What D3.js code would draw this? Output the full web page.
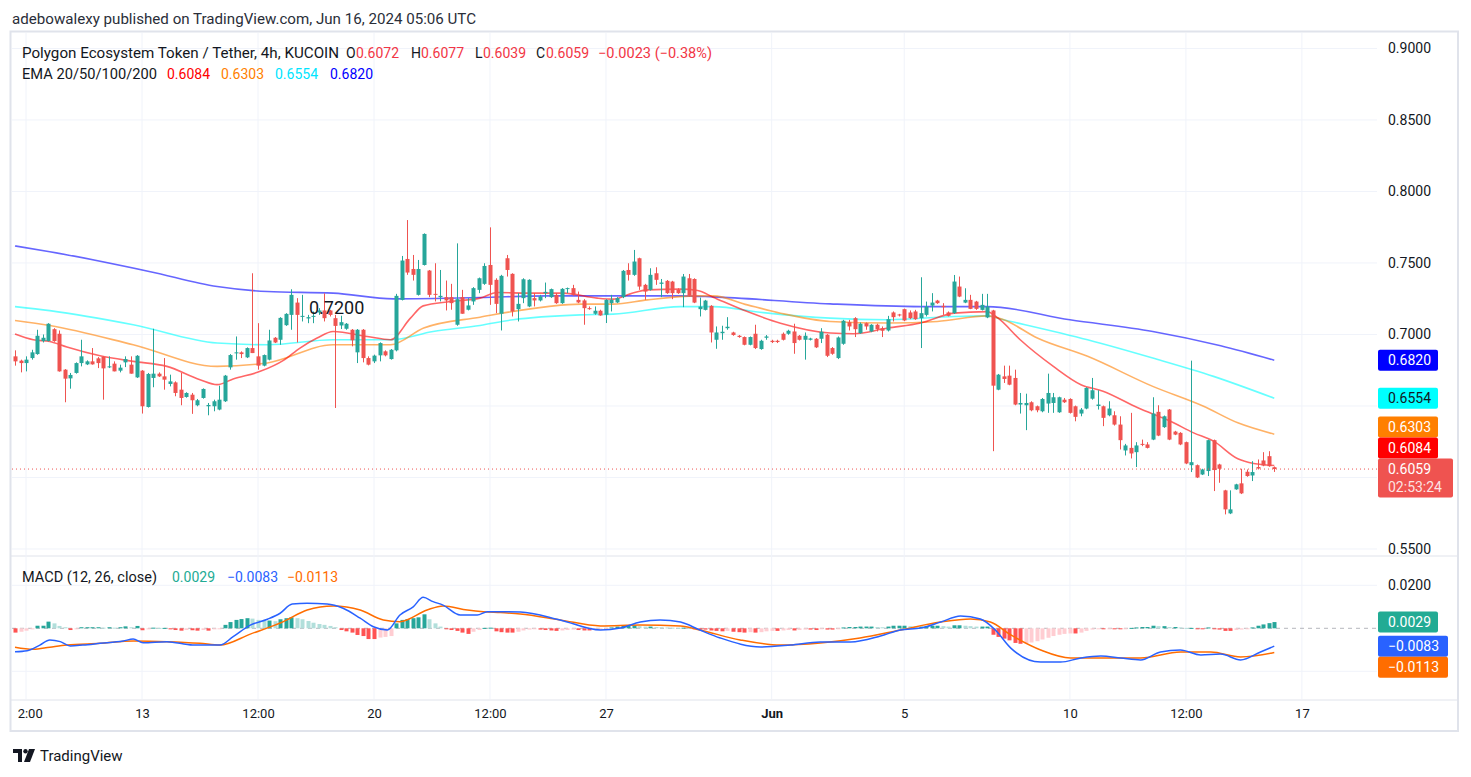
<!DOCTYPE html>
<html>
<head>
<meta charset="utf-8">
<script src="https://cdn.jsdelivr.net/npm/d3@7"></script>
<style>
  body { margin: 0; background: #ffffff; }
  svg text { font-family: Roboto, "Noto Sans", sans-serif; fill: #131722; }
</style>
</head>
<body>
<svg id="chart" width="1471" height="777"></svg>
<script>
// ---- candles (4h, first bar 2024-05-09 04:00 UTC) ----
const candleOpen = [
  .6847,.6817,.6800,.6835,.6863,.6954,.6954,.7037,.7005,.6754,
  .6693,.6731,.6800,.6791,.6812,.6833,.6844,.6770,.6796,.6747,
  .6805,.6789,.6700,.6747,.6493,.6696,.6726,.6707,.6654,.6665,
  .6614,.6563,.6579,.6505,.6556,.6498,.6498,.6475,.6533,.6770,
  .6868,.6875,.6840,.6905,.6847,.6782,.6824,.6977,.6963,.7065,
  .7137,.7223,.7123,.7112,.7126,.7154,.7168,.7168,.7114,.7063,
  .7040,.7033,.6875,.7033,.6835,.6812,.6854,.6882,.6828,.6889,
  .7242,.7528,.7458,.7277,.7486,.7447,.7284,.7261,.7261,.7261,
  .7068,.7261,.7173,.7231,.7312,.7354,.7486,.7382,.7145,.7533,
  .7424,.7177,.7254,.7196,.7254,.7238,.7289,.7261,.7277,.7219,
  .7317,.7324,.7242,.7238,.7184,.7145,.7166,.7138,.7219,.7224,
  .7261,.7451,.7417,.7533,.7347,.7312,.7428,.7354,.7375,.7370,
  .7312,.7289,.7393,.7388,.7177,.7172,.7200,.6963,.7009,.7044,
  .7014,.6991,.6982,.6928,.7005,.6898,.6977,.6956,.6956,.7005,
  .7005,.7021,.6991,.6963,.6963,.6970,.6970,.6998,.6905,.6835,
  .6935,.7086,.7114,.7009,.7079,.7021,.7068,.7044,.7028,.7154,
  .7140,.7177,.7154,.7161,.7114,.7137,.7202,.7237,.7200,.7154,
  .7149,.7335,.7223,.7242,.7230,.7172,.7119,.7168,.6614,.6707,
  .6712,.6696,.6510,.6505,.6526,.6498,.6463,.6517,.6521,.6456,
  .6544,.6549,.6498,.6447,.6482,.6551,.6500,.6498,.6435,.6435,
  .6370,.6189,.6207,.6177,.6235,.6231,.6265,.6459,.6352,.6475,
  .6321,.6312,.6247,.6086,.6086,.6021,.6045,.6261,.6091,.5910,
  .5749,.5917,.5959,.6040,.6014,.6073,.6119,.6149,.6072
];
const candleHigh = [
  .6889,.6824,.6847,.6893,.7033,.7000,.7079,.7044,.7028,.6758,
  .6731,.6805,.6963,.6819,.6905,.6842,.6847,.6847,.6812,.6789,
  .6847,.6847,.6856,.6751,.6731,.7040,.6735,.6835,.6719,.6672,
  .6731,.6596,.6591,.6549,.6623,.6521,.6544,.6642,.6717,.6863,
  .6986,.6882,.6910,.7428,.7079,.6860,.7033,.6982,.7121,.7149,
  .7316,.7254,.7277,.7137,.7161,.7184,.7288,.7172,.7137,.7131,
  .7080,.7038,.7038,.7038,.6847,.6859,.6945,.6889,.6898,.7284,
  .7549,.7800,.7556,.7521,.7707,.7451,.7498,.7451,.7377,.7354,
  .7637,.7312,.7254,.7331,.7398,.7498,.7749,.7393,.7417,.7556,
  .7428,.7289,.7393,.7386,.7289,.7277,.7363,.7321,.7289,.7324,
  .7328,.7347,.7300,.7247,.7196,.7196,.7173,.7247,.7277,.7261,
  .7451,.7498,.7591,.7537,.7354,.7463,.7470,.7388,.7381,.7375,
  .7323,.7423,.7423,.7393,.7258,.7242,.7205,.7056,.7061,.7121,
  .7019,.6996,.6986,.6986,.7068,.6963,.6996,.6963,.6963,.7014,
  .7033,.7075,.6996,.7014,.6977,.6975,.7044,.7003,.6912,.6986,
  .7102,.7102,.7121,.7084,.7084,.7072,.7075,.7056,.7130,.7161,
  .7144,.7181,.7168,.7172,.7400,.7230,.7289,.7242,.7219,.7161,
  .7416,.7405,.7323,.7277,.7235,.7284,.7284,.7172,.6724,.6782,
  .6782,.6754,.6591,.6586,.6533,.6503,.6556,.6726,.6591,.6565,
  .6556,.6554,.6503,.6486,.6631,.6696,.6610,.6503,.6533,.6463,
  .6428,.6235,.6452,.6247,.6265,.6247,.6561,.6505,.6433,.6479,
  .6326,.6317,.6251,.6817,.6091,.6061,.6265,.6265,.6096,.5914,
  .5910,.5956,.6061,.6056,.6114,.6126,.6177,.6184,.6077
];
const candleLow = [
  .6782,.6735,.6742,.6824,.6858,.6944,.6951,.6949,.6740,.6526,
  .6621,.6726,.6777,.6786,.6789,.6765,.6544,.6765,.6742,.6735,
  .6772,.6726,.6696,.6447,.6489,.6631,.6703,.6614,.6637,.6568,
  .6505,.6558,.6445,.6498,.6551,.6435,.6463,.6470,.6528,.6754,
  .6824,.6835,.6835,.6870,.6754,.6777,.6819,.6940,.6928,.7060,
  .7033,.6944,.7091,.7079,.7079,.7137,.7091,.7126,.6486,.7038,
  .7033,.6917,.6800,.6805,.6784,.6800,.6812,.6847,.6824,.6882,
  .7238,.7417,.7377,.7272,.7482,.7261,.7231,.7231,.7168,.7173,
  .7061,.7145,.7168,.7207,.7289,.7347,.7207,.7149,.7028,.7405,
  .7126,.7091,.7219,.7191,.7196,.7231,.7254,.7256,.7214,.7214,
  .7289,.7270,.7219,.7068,.7173,.7138,.7131,.7080,.7161,.7219,
  .7254,.7377,.7410,.7312,.7242,.7307,.7347,.7261,.7284,.7247,
  .7284,.7191,.7265,.7219,.7126,.7168,.6944,.6900,.6963,.7033,
  .6991,.6977,.6924,.6924,.6898,.6893,.6963,.6940,.6940,.6958,
  .6998,.6865,.6958,.6824,.6958,.6905,.6940,.6842,.6858,.6828,
  .6928,.7028,.6982,.7005,.7033,.7016,.7021,.6982,.7021,.7091,
  .7126,.7093,.7107,.7102,.6905,.7126,.7161,.7214,.7137,.7126,
  .7144,.7261,.7219,.7177,.7172,.7168,.7114,.6184,.6610,.6661,
  .6645,.6505,.6447,.6331,.6463,.6456,.6456,.6452,.6452,.6452,
  .6521,.6447,.6393,.6428,.6477,.6544,.6475,.6359,.6428,.6363,
  .6196,.6154,.6133,.6073,.6219,.6203,.6261,.6289,.6347,.6261,
  .6296,.6226,.6093,.6038,.5996,.6017,.6010,.5905,.5963,.5742,
  .5744,.5914,.5884,.6005,.5975,.6056,.6079,.6075,.6039
];
const candleClose = [
  .6812,.6800,.6824,.6875,.6991,.6977,.7075,.6954,.6742,.6691,
  .6717,.6800,.6847,.6812,.6791,.6800,.6763,.6777,.6742,.6768,
  .6828,.6726,.6851,.6498,.6724,.6726,.6707,.6684,.6672,.6591,
  .6556,.6591,.6540,.6540,.6619,.6507,.6533,.6544,.6712,.6856,
  .6875,.6863,.6905,.6870,.6782,.6856,.6958,.6944,.7116,.7144,
  .7277,.7137,.7130,.7121,.7130,.7168,.7114,.7137,.7060,.7086,
  .7075,.6959,.7033,.6835,.6789,.6852,.6940,.6854,.6893,.7270,
  .7517,.7433,.7417,.7458,.7703,.7277,.7277,.7270,.7238,.7219,
  .7247,.7145,.7203,.7324,.7393,.7479,.7347,.7214,.7410,.7451,
  .7161,.7214,.7386,.7382,.7238,.7266,.7298,.7317,.7219,.7319,
  .7324,.7277,.7224,.7184,.7177,.7166,.7133,.7242,.7242,.7254,
  .7445,.7417,.7510,.7335,.7300,.7417,.7382,.7363,.7289,.7289,
  .7289,.7405,.7270,.7223,.7195,.7237,.7014,.7014,.7019,.7054,
  .6996,.6982,.6928,.6982,.6905,.6956,.6986,.6947,.6947,.6963,
  .7026,.6940,.6963,.6991,.6972,.6910,.7019,.6851,.6865,.6979,
  .7096,.7056,.7037,.7075,.7056,.7068,.7037,.7026,.7107,.7121,
  .7133,.7098,.7114,.7107,.7149,.7195,.7223,.7219,.7191,.7130,
  .7370,.7265,.7242,.7179,.7179,.7207,.7195,.6642,.6719,.6689,
  .6649,.6510,.6521,.6521,.6470,.6470,.6549,.6591,.6561,.6561,
  .6526,.6452,.6424,.6475,.6626,.6610,.6510,.6417,.6482,.6370,
  .6261,.6224,.6168,.6224,.6228,.6207,.6447,.6293,.6428,.6265,
  .6300,.6231,.6098,.6107,.6000,.6056,.6261,.6052,.6061,.5777,
  .5777,.5952,.5889,.6010,.6038,.6063,.6084,.6079,.6059
];

// ---- EMA lines, read at bar positions (bar index, value) ----
const ema20Idx = [0,3.3,6.3,9.4,15.4,21.4,27.5,33.5,36.6,39.5,44.4,48.6,51.6,54.7,57.6,63.8,68,71.6,73.9,78.8,84.2,87.3,93.3,99.3,105.4,108.3,111.4,114.5,120.5,123.6,126.4,132.6,138.6,147.6,151.8,158,164,170,176,178,182,188,193,197,203.3,209.2,213.4,217,221.4,224.3,228];
const ema20Val = [.7003,.6963,.6951,.6912,.6851,.6812,.6777,.6684,.6649,.6689,.6742,.6819,.6905,.6975,.7021,.6986,.6963,.7114,.7200,.7230,.7254,.7293,.7289,.7289,.7254,.7247,.7284,.7312,.7317,.7307,.7261,.7160,.7079,.7010,.7005,.7045,.7080,.7149,.7160,.7114,.6963,.6777,.6649,.6603,.6487,.6393,.6312,.6254,.6131,.6098,.6084];
const ema50Idx = [0,6.3,21.4,36.6,45.7,57.6,68,74,84.2,96.4,102.4,108.3,114.5,123.5,126.4,132.6,138.6,147.6,158,167,176,179,185.1,194.2,206,215.2,221.4,228];
const ema50Val = [.7098,.7063,.6928,.6777,.6801,.6928,.6928,.7045,.7121,.7195,.7212,.7212,.7242,.7270,.7270,.7207,.7149,.7091,.7080,.7091,.7130,.7103,.6975,.6847,.6637,.6498,.6382,.6303];
const ema100Idx = [0,6.3,21.4,36.6,45.7,57.6,68,75.7,84.2,90.2,102.4,108.3,120.5,126.4,135.5,147.6,158,170,176,179,194.2,206,217,228];
const ema100Val = [.7195,.7167,.7068,.6940,.6928,.6963,.6963,.7021,.7063,.7103,.7137,.7142,.7195,.7195,.7153,.7114,.7103,.7126,.7130,.7103,.6963,.6835,.6707,.6554];
const ema200Idx = [0,6.3,24.5,36.6,45.7,57.6,68.5,84.2,96.4,120.5,126.4,147.6,164,176,191,206,218.3,228];
const ema200Val = [.7619,.7579,.7439,.7335,.7300,.7289,.7249,.7258,.7270,.7270,.7263,.7214,.7195,.7195,.7103,.7021,.6921,.6820];

// ---- MACD (12, 26, close) ----
const macdIdx = [0,2.2,4.5,6.3,8.2,10,12.3,15.4,19.6,21.4,23.2,27.5,32.2,37.1,39.5,42.6,45.7,48,50.2,52.9,56.5,59.4,62.5,64.9,67.4,69.7,72.1,73.9,75.7,77.5,80.6,83.7,85.5,87.9,91.5,98.7,106,109.6,113.2,116.8,120.5,124,127.7,135,140.4,145.8,151.3,156.7,160.3,164,167.6,171.2,174.8,177.5,180.3,185.7,189.3,193,196.6,200.2,203.8,207.4,211,214.7,218.3,221.9,225.5,228];
const macdVal = [-.0109,-.0104,-.0078,-.0054,-.0062,-.0082,-.0078,-.0070,-.0059,-.0050,-.0067,-.0062,-.0078,-.0078,-.0039,.0015,.0042,.0070,.0113,.0116,.0113,.0093,.0047,.0007,-.0008,.0062,.0100,.0144,.0124,.0108,.0062,.0062,.0077,.0077,.0076,.0039,-.0008,.0001,.0029,.0039,.0029,-.0008,-.0045,-.0087,-.0078,-.0064,-.0064,-.0036,-.0008,.0001,.0029,.0057,.0043,-.0008,-.0092,-.0157,-.0157,-.0138,-.0129,-.0138,-.0147,-.0110,-.0101,-.0124,-.0120,-.0147,-.0110,-.0083];
const signalIdx = [0,3.3,6.3,9.4,15.4,21.4,27.5,33.5,37.1,42.6,48.6,52.9,57.6,62.5,66.7,69.7,74.6,77.5,81.9,84.8,87.9,91.5,98.7,106,113.2,120.5,124,131.3,138.6,145.8,153,160.3,167.6,173,176.6,180.3,185.7,191.1,196.6,203.8,211,216.5,221.9,228];
const signalVal = [-.0088,-.0098,-.0088,-.0078,-.0070,-.0059,-.0062,-.0070,-.0078,-.0027,.0031,.0085,.0104,.0085,.0039,.0031,.0085,.0104,.0085,.0077,.0073,.0067,.0039,.0011,.0015,.0011,-.0008,-.0054,-.0078,-.0068,-.0045,-.0008,.0029,.0043,.0029,-.0031,-.0101,-.0138,-.0138,-.0138,-.0110,-.0110,-.0133,-.0113];
const histVal = [
  -.0020,-.0016,-.0011,-.0005,.0012,.0012,.0031,.0023,.0011,.0005,
  -.0008,-.0003,.0005,.0005,.0005,.0005,.0003,.0005,.0003,.0005,
  .0009,.0005,.0011,-.0009,-.0005,.0003,.0002,.0002,-.0005,-.0008,
  -.0011,-.0008,-.0009,-.0011,-.0008,-.0011,-.0005,-.0003,.0016,.0029,
  .0039,.0043,.0047,.0045,.0039,.0034,.0036,.0033,.0042,.0047,
  .0051,.0047,.0042,.0034,.0026,.0020,.0016,.0011,.0005,-.0008,
  -.0014,-.0020,-.0031,-.0036,-.0050,-.0050,-.0043,-.0040,-.0036,.0023,
  .0039,.0043,.0047,.0051,.0065,.0042,.0023,.0008,-.0003,-.0008,
  -.0012,-.0020,-.0026,-.0016,-.0008,.0002,.0003,-.0014,
  -.0018,-.0020,-.0020,-.0016,-.0010,-.0006,-.0004,-.0006,-.0008,-.0010,
  -.0012,-.0010,-.0008,-.0006,-.0008,-.0010,-.0010,-.0008,-.0006,-.0002,
  .0004,.0008,.0012,.0012,.0014,.0010,.0008,.0008,.0006,.0005,
  .0004,.0003,.0002,.0003,.0002,-.0004,-.0006,-.0006,-.0010,-.0012,
  -.0014,-.0012,-.0016,-.0018,-.0020,-.0018,-.0020,-.0018,-.0014,-.0012,
  -.0012,-.0010,-.0008,-.0010,-.0008,-.0006,-.0006,-.0008,-.0004,-.0006,
  -.0006,-.0002,.0004,.0006,.0006,.0008,.0008,.0008,.0006,.0005,
  .0008,.0012,.0012,.0012,.0010,.0008,.0008,.0010,.0012,.0012,
  .0010,.0008,.0014,.0014,.0012,.0010,.0008,.0008,.0008,-.0030,
  -.0040,-.0048,-.0056,-.0068,-.0072,-.0070,-.0066,-.0060,-.0052,-.0044,
  -.0036,-.0030,-.0026,-.0024,-.0024,-.0020,-.0012,-.0006,-.0004,-.0004,
  -.0002,-.0002,-.0004,-.0002,.0002,.0004,.0006,.0006,.0012,.0010,
  .0010,.0006,.0006,.0004,.0002,.0002,-.0004,-.0004,.0004,-.0002,
  -.0006,-.0012,-.0012,-.0008,-.0006,-.0004,.0004,.0012,.0018,.0024,
  .0029
];

// ---- axes ----
const priceTicks = [0.55, 0.60, 0.65, 0.70, 0.75, 0.80, 0.85, 0.90];
const macdTicks = [0.02, 0, -0.02];
const timeTicks = [
  Date.UTC(2024,4,9,12), Date.UTC(2024,4,13), Date.UTC(2024,4,16,12), Date.UTC(2024,4,20),
  Date.UTC(2024,4,23,12), Date.UTC(2024,4,27), Date.UTC(2024,5,1), Date.UTC(2024,5,5),
  Date.UTC(2024,5,10), Date.UTC(2024,5,13,12), Date.UTC(2024,5,17)
];
const timeLabels = ['12:00','13','12:00','20','12:00','27','Jun','5','10','12:00','17'];

// ---- layout ----
const t0 = Date.UTC(2024, 4, 9, 4);
const H4 = 4 * 3600 * 1000;
const at = i => new Date(t0 + i * H4);

const box = {left: 12, right: 1377, top: 33, mainBottom: 555, macdTop: 557, macdBottom: 699, axisBottom: 731, outerRight: 1458};

const x = d3.scaleUtc().domain([at(-0.543), at(246.6)]).range([box.left, box.right]);
const y = d3.scaleLinear().domain([0.5458, 0.9108]).range([box.mainBottom, box.top]);
const ym = d3.scaleLinear().domain([-0.03288, 0.03316]).range([box.macdBottom, box.macdTop]);

const UP = '#26a69a', DOWN = '#ef5350';
const svg = d3.select('#chart');
const fmt = d3.format('.4f');

svg.append('defs').call(defs => {
  defs.append('clipPath').attr('id', 'clip-main')
    .append('rect').attr('x', box.left).attr('y', box.top).attr('width', box.right - box.left).attr('height', box.mainBottom - box.top);
  defs.append('clipPath').attr('id', 'clip-macd')
    .append('rect').attr('x', box.left).attr('y', box.macdTop).attr('width', box.right - box.left).attr('height', box.macdBottom - box.macdTop);
  // the first time label is cut by the left edge, as in the original
  defs.append('clipPath').attr('id', 'clip-time')
    .append('rect').attr('x', box.left + 6).attr('y', box.macdBottom).attr('width', box.right - box.left - 6).attr('height', 32);
});

// header
svg.append('text').attr('x', 12).attr('y', 24).style('font-size', '15px').style('fill', '#2a2e39')
  .attr('textLength', 464).attr('lengthAdjust', 'spacingAndGlyphs')
  .text('adebowalexy published on TradingView.com, Jun 16, 2024 05:06 UTC');

// frame
const frameColor = '#e0e3eb';
svg.append('rect').attr('x', 10.5).attr('y', 31.5).attr('width', box.outerRight - 10.5).attr('height', box.axisBottom - 31.5)
  .attr('fill', 'none').attr('stroke', frameColor).attr('stroke-width', 2);
svg.append('line').attr('x1', 10).attr('x2', box.outerRight).attr('y1', 556).attr('y2', 556).attr('stroke', frameColor);
svg.append('line').attr('x1', 10).attr('x2', box.outerRight).attr('y1', 700).attr('y2', 700).attr('stroke', frameColor);

// grid
const gridColor = '#f0f3fa';
const grid = svg.append('g');
grid.selectAll('.vgrid').data(timeTicks).join('line')
  .attr('x1', d => x(d)).attr('x2', d => x(d))
  .attr('y1', box.top).attr('y2', box.macdBottom)
  .attr('stroke', gridColor);
grid.selectAll('.hgrid').data(priceTicks).join('line')
  .attr('x1', box.left).attr('x2', box.right)
  .attr('y1', d => y(d)).attr('y2', d => y(d))
  .attr('stroke', gridColor);
grid.selectAll('.mgrid').data([0.02, -0.02]).join('line')
  .attr('x1', box.left).attr('x2', box.right)
  .attr('y1', d => ym(d)).attr('y2', d => ym(d))
  .attr('stroke', gridColor);

// main pane
const main = svg.append('g').attr('clip-path', 'url(#clip-main)');

const emaLine = d3.line().x(d => x(at(d[0]))).y(d => y(d[1])).curve(d3.curveMonotoneX);
const emas = [
  {idx: ema200Idx, val: ema200Val, color: '#0000ff'},
  {idx: ema100Idx, val: ema100Val, color: '#00ffff'},
  {idx: ema50Idx, val: ema50Val, color: '#ff7f00'},
  {idx: ema20Idx, val: ema20Val, color: '#ff0000'}
];
emas.forEach(e => {
  main.append('path').datum(d3.zip(e.idx, e.val))
    .attr('d', emaLine).attr('fill', 'none')
    .attr('stroke', e.color).attr('stroke-opacity', 0.6).attr('stroke-width', 1.6);
});

const bars = candleOpen.map((o, i) => ({i, o, h: candleHigh[i], l: candleLow[i], c: candleClose[i]}));
main.selectAll('.wick').data(bars).join('line')
  .attr('x1', d => Math.round(x(at(d.i))) + 0.5).attr('x2', d => Math.round(x(at(d.i))) + 0.5)
  .attr('y1', d => y(d.h)).attr('y2', d => y(d.l))
  .attr('stroke', d => d.c >= d.o ? UP : DOWN);
main.selectAll('.body').data(bars).join('rect')
  .attr('x', d => Math.round(x(at(d.i))) - 1.5)
  .attr('y', d => y(Math.max(d.o, d.c)))
  .attr('width', 4)
  .attr('height', d => Math.max(1, Math.abs(y(d.o) - y(d.c))))
  .attr('fill', d => d.c >= d.o ? UP : DOWN);

// last price line
const lastClose = candleClose[candleClose.length - 1];
main.append('line').attr('x1', box.left).attr('x2', box.right)
  .attr('y1', y(lastClose)).attr('y2', y(lastClose))
  .attr('stroke', DOWN).attr('stroke-dasharray', '1,3');

// author's note on the chart
svg.append('text').attr('x', 309).attr('y', 314).style('font-size', '18px').text('0.7200');

// legends: each piece placed where it sits in the original
function legendPiece(px, py, text, color, len) {
  const t = svg.append('text').attr('x', px).attr('y', py).style('font-size', '14px')
    .style('fill', color || '#131722').text(text);
  if (len) t.attr('textLength', len).attr('lengthAdjust', 'spacingAndGlyphs');
}
const red = '#f23645';
legendPiece(22, 58, 'Polygon Ecosystem Token / Tether, 4h, KUCOIN', null, 317);
[['O', '0.6072', 346], ['H', '0.6077', 411], ['L', '0.6039', 475], ['C', '0.6059', 536]].forEach(([k, v, px]) => {
  legendPiece(px, 58, k);
  legendPiece(px + (k === 'L' ? 8 : 10), 58, v, red);
});
legendPiece(598, 58, '\u22120.0023 (\u22120.38%)', red, 114);

legendPiece(22, 79, 'EMA 20/50/100/200', null, 135);
[['0.6084', '#ff0000', 167], ['0.6303', '#ff7f00', 221], ['0.6554', '#00e5ff', 275], ['0.6820', '#0000ff', 330]]
  .forEach(([v, c, px]) => legendPiece(px, 79, v, c));

// MACD pane
const macdG = svg.append('g').attr('clip-path', 'url(#clip-macd)');
macdG.append('line').attr('x1', box.left).attr('x2', box.right)
  .attr('y1', ym(0)).attr('y2', ym(0))
  .attr('stroke', '#9598a1').attr('stroke-dasharray', '4,4').attr('stroke-opacity', 0.7);

const histColor = (v, i) => {
  const prev = i > 0 ? histVal[i - 1] : v;
  if (v >= 0) return v >= prev ? '#26a69a' : '#b2dfdb';
  return v <= prev ? '#ff5252' : '#ffcdd2';
};
macdG.selectAll('.hist').data(histVal).join('rect')
  .attr('x', (d, i) => Math.round(x(at(i))) - 1.5)
  .attr('y', d => ym(Math.max(0, d)))
  .attr('width', 4)
  .attr('height', d => Math.max(1, Math.abs(ym(d) - ym(0))))
  .attr('fill', (d, i) => histColor(d, i));

const macdLine = d3.line().x(d => x(at(d[0]))).y(d => ym(d[1])).curve(d3.curveMonotoneX);
macdG.append('path').datum(d3.zip(signalIdx, signalVal)).attr('d', macdLine)
  .attr('fill', 'none').attr('stroke', '#ff6d00').attr('stroke-width', 1.5);
macdG.append('path').datum(d3.zip(macdIdx, macdVal)).attr('d', macdLine)
  .attr('fill', 'none').attr('stroke', '#2962ff').attr('stroke-width', 1.5);

legendPiece(22, 582, 'MACD (12, 26, close)', null, 135);
[['0.0029', '#22ab94', 172], ['\u22120.0083', '#2962ff', 227], ['\u22120.0113', '#ff6d00', 287]]
  .forEach(([v, c, px]) => legendPiece(px, 582, v, c));

// badge placement: price badge holds; EMA badges above it move up to clear it
const badgeH = 21;
const priceTop = y(lastClose) - badgeH / 2;
const emaBadges = [
  {v: ema20Val[ema20Val.length - 1], fill: '#ff0000', tc: '#ffffff'},
  {v: ema50Val[ema50Val.length - 1], fill: '#ff7f00', tc: '#ffffff'},
  {v: ema100Val[ema100Val.length - 1], fill: '#00ffff', tc: '#131722'},
  {v: ema200Val[ema200Val.length - 1], fill: '#0000ff', tc: '#ffffff'}
];
let limit = priceTop;
emaBadges.forEach(b => {
  let cy = y(b.v);
  if (cy + badgeH / 2 > limit) cy = limit - badgeH / 2;
  limit = cy - badgeH / 2;
  b.cy = cy;
});
// MACD: histogram badge holds, line badges move down below it
const macdBadges = [
  {v: histVal[histVal.length - 1], fill: '#22ab94', w: 60},
  {v: macdVal[macdVal.length - 1], fill: '#2962ff', w: 70},
  {v: signalVal[signalVal.length - 1], fill: '#ff6d00', w: 70}
];
let low = -Infinity;
macdBadges.forEach(b => {
  let cy = ym(b.v);
  if (cy - badgeH / 2 < low) cy = low + badgeH / 2;
  low = cy + badgeH / 2;
  b.cy = cy;
});
const covered = [
  [priceTop, priceTop + 39],
  ...emaBadges.map(b => [b.cy - badgeH / 2, b.cy + badgeH / 2]),
  ...macdBadges.map(b => [b.cy - badgeH / 2, b.cy + badgeH / 2])
];
const isCovered = py => covered.some(([a, b]) => py + 6 > a && py - 6 < b);

// price axis (labels hidden behind a badge are dropped)
const yAxisG = svg.append('g').attr('transform', `translate(${box.right},0)`)
  .call(d3.axisRight(y).tickValues(priceTicks.filter(v => !isCovered(y(v)))).tickFormat(fmt).tickSize(0).tickPadding(11));
const mAxisG = svg.append('g').attr('transform', `translate(${box.right},0)`)
  .call(d3.axisRight(ym).tickValues(macdTicks.filter(v => !isCovered(ym(v)))).tickFormat(fmt).tickSize(0).tickPadding(11));
[yAxisG, mAxisG].forEach(g => {
  g.select('.domain').remove();
  g.selectAll('text').style('font-size', '14px').style('fill', '#131722').attr('font-family', null);
});

// time axis
const timeClip = svg.append('g').attr('clip-path', 'url(#clip-time)');
const xAxisG = timeClip.append('g').attr('transform', `translate(0,${box.macdBottom + 1})`)
  .call(d3.axisBottom(x).tickValues(timeTicks.map(t => new Date(t))).tickFormat((d, i) => timeLabels[i]).tickSize(0).tickPadding(9));
xAxisG.select('.domain').remove();
xAxisG.selectAll('text').style('font-size', '13px').style('fill', '#131722').attr('font-family', null)
  .style('font-weight', (d, i) => timeLabels[i] === 'Jun' ? 'bold' : 'normal');

// badges
function badge(cy, text, fill, textColor, width, extra) {
  const h = extra ? 39 : badgeH;
  svg.append('rect').attr('x', 1378).attr('y', cy - badgeH / 2).attr('width', width).attr('height', h)
    .attr('rx', 2).attr('fill', fill);
  svg.append('text').attr('x', 1388).attr('y', cy + 5).style('font-size', '14px')
    .style('fill', textColor).text(text);
  if (extra) {
    svg.append('text').attr('x', 1388).attr('y', cy + 23).style('font-size', '14px')
      .style('fill', textColor).style('fill-opacity', 0.85).text(extra);
  }
}
emaBadges.slice().reverse().forEach(b => badge(b.cy, fmt(b.v), b.fill, b.tc, 60));
badge(y(lastClose), fmt(lastClose), '#ef5350', '#ffffff', 75, '02:53:24');
macdBadges.forEach(b => badge(b.cy, fmt(b.v), b.fill, '#ffffff', b.w));

// footer logo
const logo = svg.append('g').attr('fill', '#131722');
logo.append('path').attr('d', 'M13 749 H22 V762 H18 V753 H13 Z');
logo.append('circle').attr('cx', 25.5).attr('cy', 751.2).attr('r', 2.2);
logo.append('path').attr('d', 'M29 749 H35 L30 762 H24 Z');
svg.append('text').attr('x', 40).attr('y', 761).style('font-size', '15px').style('fill', '#131722').text('TradingView');
</script>
</body>
</html>
